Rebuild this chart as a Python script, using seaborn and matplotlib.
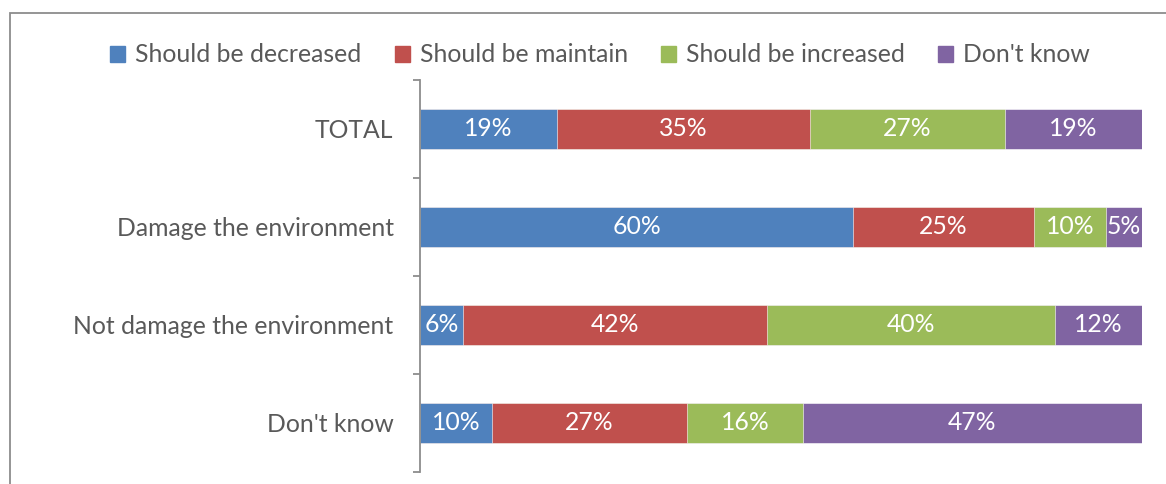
import numpy as np
import pandas as pd
import matplotlib
matplotlib.use("Agg")
import matplotlib.pyplot as plt
from matplotlib.patches import Rectangle
import seaborn as sns

categories = ["TOTAL", "Damage the environment", "Not damage the environment", "Don't know"]
series_names = ["Should be decreased", "Should be maintain", "Should be increased", "Don't know"]
decreased = [19, 60, 6, 10]
maintain = [35, 25, 42, 27]
increased = [27, 10, 40, 16]
dont_know = [19, 5, 12, 47]
colors = ["#4F81BD", "#C0504D", "#9BBB59", "#8064A2"]

sns.set_theme(style="white")
plt.rcParams["font.family"] = ["Lato", "DejaVu Sans"]
TEXT = "#595959"
FS = 17.8

values = np.array([decreased, maintain, increased, dont_know], dtype=float)
cum = values.cumsum(axis=0)

fig = plt.figure(figsize=(11.66, 4.84), dpi=100)
ax = fig.add_axes([420 / 1166, 1 - 472 / 484, (1142 - 420) / 1166, (472 - 80) / 484])

# Stack by drawing cumulative totals from the outermost segment inwards
for i in reversed(range(len(series_names))):
    df = pd.DataFrame({"category": categories, "value": cum[i]})
    sns.barplot(data=df, y="category", x="value", orient="h", color=colors[i],
                width=0.41, ax=ax, saturation=1, edgecolor="white", linewidth=0.4)

for i in range(len(series_names)):
    for j in range(len(categories)):
        start = cum[i, j] - values[i, j]
        ax.text(start + values[i, j] / 2, j, f"{int(values[i, j])}%", ha="center", va="center",
                color="white", fontsize=FS)

ax.set_xlim(0, 100)
ax.set_ylim(len(categories) - 0.5, -0.5)
ax.set_xlabel("")
ax.set_ylabel("")
ax.set_xticks([])
for s in ["top", "right", "bottom"]:
    ax.spines[s].set_visible(False)
ax.spines["left"].set_color("#8c8c8c")
ax.spines["left"].set_linewidth(1.3)
ax.tick_params(axis="y", which="major", length=0, pad=19, labelsize=FS, labelcolor=TEXT)
ax.set_yticks(np.arange(len(categories) + 1) - 0.5, minor=True)
ax.tick_params(axis="y", which="minor", length=5, width=1.3, color="#8c8c8c", left=True)

handles = [Rectangle((0, 0), 1, 1, color=c) for c in colors]
fig.legend(handles, series_names, loc="center", bbox_to_anchor=(600 / 1166, 1 - 55 / 484),
           ncol=4, frameon=False, fontsize=FS, labelcolor=TEXT, handlelength=0.6,
           handleheight=0.6, handletextpad=0.4, columnspacing=1.35)

fig.add_artist(Rectangle((10 / 1166, -0.2), 1.2, 1.2 - 13 / 484, transform=fig.transFigure,
                         fill=False, edgecolor="#8c8c8c", linewidth=1.3))

fig.savefig("out.png", dpi=100)
